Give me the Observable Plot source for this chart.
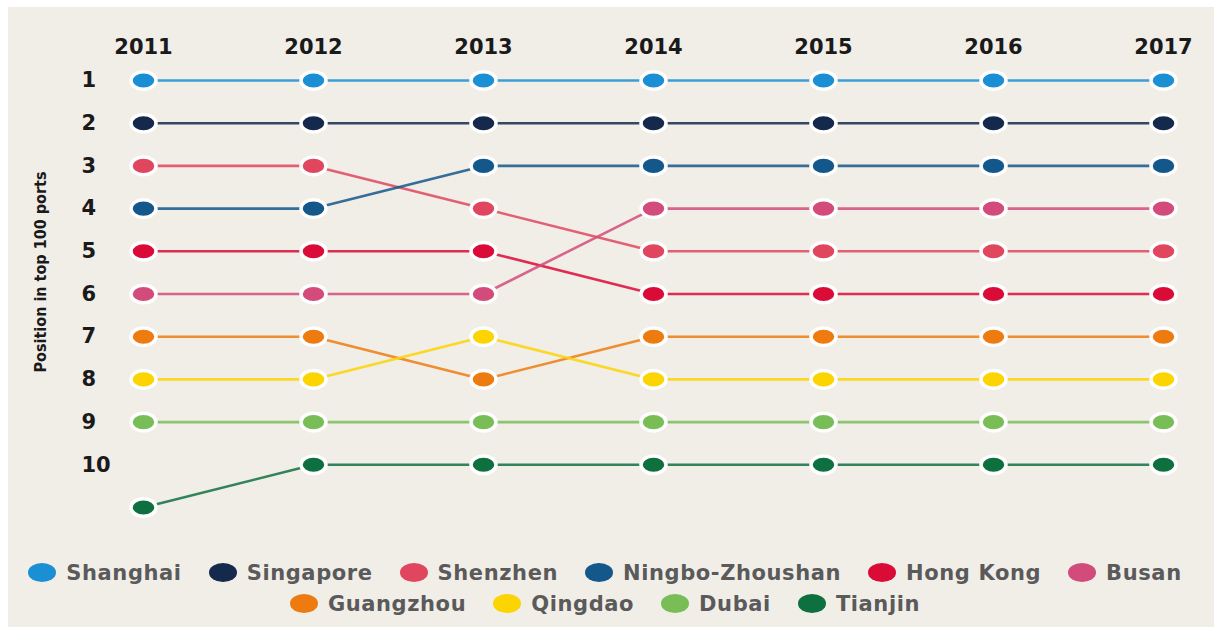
<!DOCTYPE html>
<html>
<head>
<meta charset="utf-8">
<script src="https://cdn.jsdelivr.net/npm/d3@7"></script>
<script src="https://cdn.jsdelivr.net/npm/@observablehq/plot@0.6"></script>
<style>
  html, body { margin: 0; padding: 0; background: #ffffff; }
  #panel { position: absolute; left: 8px; top: 7px; width: 1206px; height: 620px; background: #f1eee8; overflow: hidden; }
  #chart svg { display: block; }
  #legend { position: absolute; left: 12px; top: 555px; width: 1170px; display: flex; flex-wrap: wrap; justify-content: center; column-gap: 27px; row-gap: 10px; font-family: "DejaVu Sans", sans-serif; font-weight: bold; font-size: 21px; letter-spacing: 0.6px; color: #5a5a5a; }
  .item { display: flex; align-items: center; height: 21px; }
  .sw { width: 28px; height: 19px; border-radius: 50%; margin-right: 10px; }
</style>
</head>
<body>
<div id="panel">
  <div id="chart"></div>
  <div id="legend"></div>
</div>
<script>
const years = [2011, 2012, 2013, 2014, 2015, 2016, 2017];
const ports = ["Shanghai", "Singapore", "Shenzhen", "Ningbo-Zhoushan", "Hong Kong", "Busan", "Guangzhou", "Qingdao", "Dubai", "Tianjin"];
const colors = ["#1b8fd4", "#14294b", "#e0475f", "#13578b", "#db0b37", "#d34b7b", "#ee7b10", "#fbd402", "#79bd57", "#0f703f"];
const rankTicks = [1, 2, 3, 4, 5, 6, 7, 8, 9, 10];
const yLabel = "Position in top 100 ports";

const shanghai  = [1, 1, 1, 1, 1, 1, 1];
const singapore = [2, 2, 2, 2, 2, 2, 2];
const shenzhen  = [3, 3, 4, 5, 5, 5, 5];
const ningbo    = [4, 4, 3, 3, 3, 3, 3];
const hongkong  = [5, 5, 5, 6, 6, 6, 6];
const busan     = [6, 6, 6, 4, 4, 4, 4];
const guangzhou = [7, 7, 8, 7, 7, 7, 7];
const qingdao   = [8, 8, 7, 8, 8, 8, 8];
const dubai     = [9, 9, 9, 9, 9, 9, 9];
const tianjin   = [11, 10, 10, 10, 10, 10, 10];

const series = [shanghai, singapore, shenzhen, ningbo, hongkong, busan, guangzhou, qingdao, dubai, tianjin];
const rows = [];
ports.forEach((p, i) => years.forEach((y, j) => rows.push({port: p, year: y, rank: series[i][j]})));

const ellipse = {
  draw(context) {
    const rx = 12.5, ry = 8.8, k = 0.5523;
    context.moveTo(rx, 0);
    context.bezierCurveTo(rx, ry * k, rx * k, ry, 0, ry);
    context.bezierCurveTo(-rx * k, ry, -rx, ry * k, -rx, 0);
    context.bezierCurveTo(-rx, -ry * k, -rx * k, -ry, 0, -ry);
    context.bezierCurveTo(rx * k, -ry, rx, -ry * k, rx, 0);
    context.closePath();
  }
};

const chart = Plot.plot({
  width: 1206,
  height: 530,
  marginLeft: 135,
  marginRight: 51,
  marginTop: 73,
  marginBottom: 30,
  style: {background: "transparent", fontFamily: "DejaVu Sans, sans-serif", overflow: "visible"},
  x: {domain: [2011, 2017]},
  y: {domain: [1, 11], reverse: true},
  color: {domain: ports, range: colors},
  marks: [
    Plot.axisX(years, {anchor: "top", tickSize: 0, tickPadding: 27, tickFormat: d => String(d), fontSize: 21, fontWeight: "bold", fill: "#1a1a1a", label: null}),
    Plot.axisY(rankTicks, {anchor: "left", tickSize: 0, tickPadding: 62, textAnchor: "start", fontSize: 21, fontWeight: "bold", fill: "#1a1a1a", label: null}),
    Plot.text([yLabel], {frameAnchor: "left", textAnchor: "middle", rotate: -90, dx: -103, dy: -22, fontSize: 16, fontWeight: "bold", fontFamily: "Liberation Sans Narrow, DejaVu Sans Condensed, sans-serif", fill: "#1a1a1a"}),
    Plot.line(rows, {x: "year", y: "rank", z: "port", stroke: "port", strokeWidth: 2.6, strokeOpacity: 0.85}),
    Plot.dot(rows, {x: "year", y: "rank", fill: "port", stroke: "white", strokeWidth: 3.5, symbol: ellipse})
  ]
});
document.getElementById("chart").appendChild(chart);

const legend = document.getElementById("legend");
ports.forEach((p, i) => {
  const item = document.createElement("div");
  item.className = "item";
  const sw = document.createElement("span");
  sw.className = "sw";
  sw.style.background = colors[i];
  const t = document.createElement("span");
  t.textContent = p;
  item.appendChild(sw);
  item.appendChild(t);
  legend.appendChild(item);
});
</script>
</body>
</html>
